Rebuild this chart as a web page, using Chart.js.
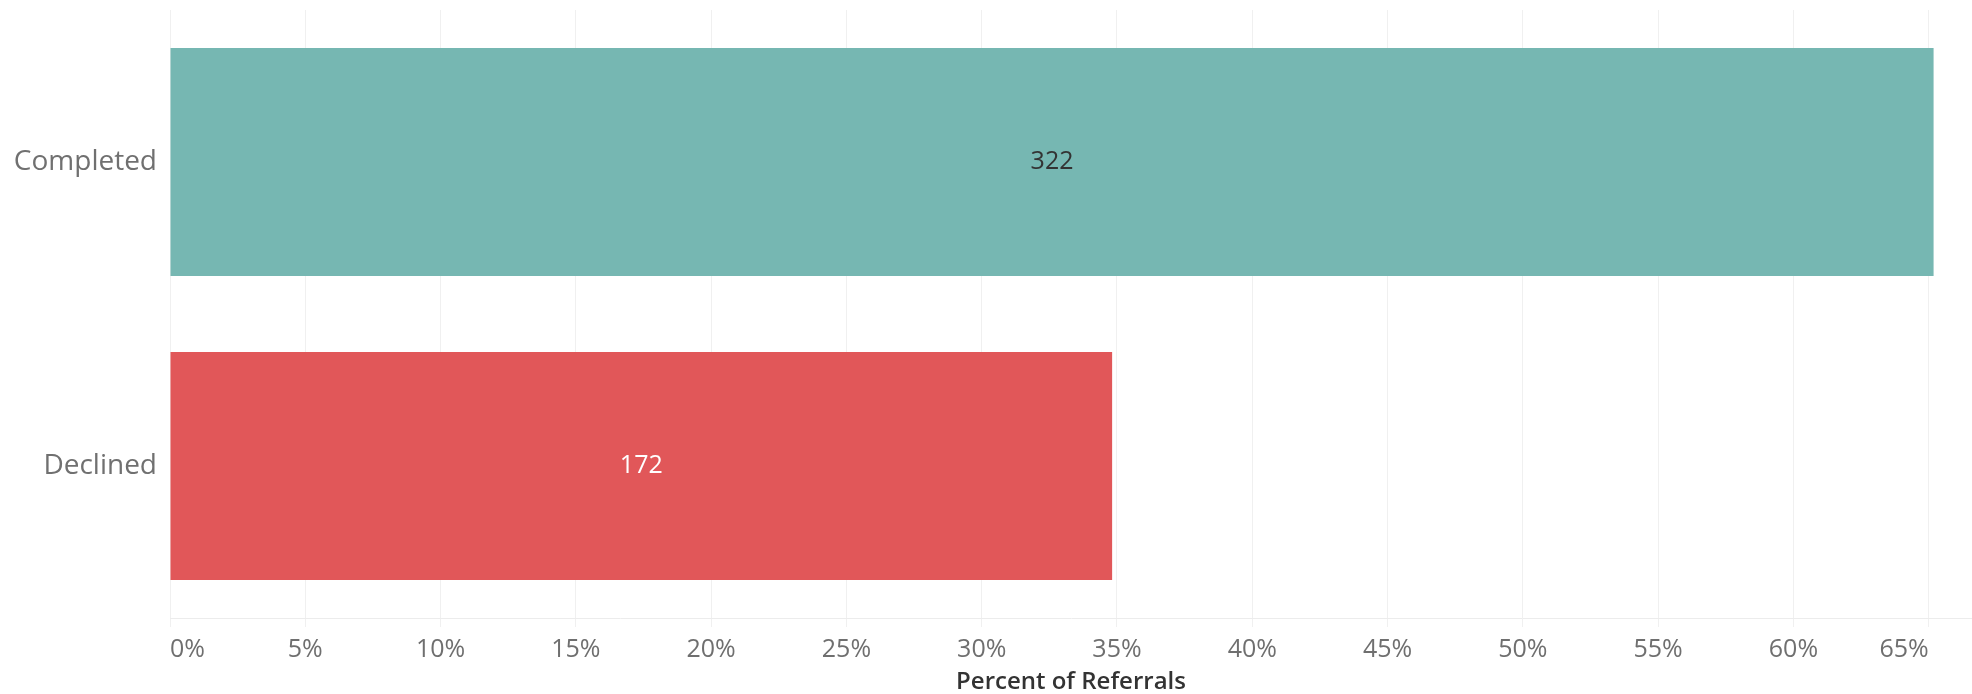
<!DOCTYPE html>
<html>

<head>
    <meta charset="utf-8">
    <title>Referrals</title>
    <script src="https://cdn.jsdelivr.net/npm/chart.js@4.4.0/dist/chart.umd.min.js"></script>
    <style>
        body { margin: 0; background: #fff; }
        canvas { display: block; }
    </style>
</head>

<body>
    <canvas id="chartJSContainer" width="1972" height="694"></canvas>
    <script>
        const statuses = ["Completed", "Declined"]
        const percentOfReferrals = [65.18, 34.82]
        const referralCounts = [322, 172]
        const barColors = ['#76B7B2', '#E15759']
        const countColors = ['#333333', '#ffffff']

        // counts drawn in the middle of each bar
        const countLabels = {
            id: 'countLabels',
            afterDatasetsDraw(chart) {
                const ctx = chart.ctx
                const meta = chart.getDatasetMeta(0)
                ctx.save()
                ctx.font = '25px "Open Sans"'
                ctx.textAlign = 'center'
                ctx.textBaseline = 'middle'
                meta.data.forEach(function (bar, i) {
                    ctx.fillStyle = countColors[i]
                    ctx.fillText(referralCounts[i], (bar.x + bar.base) / 2, bar.y)
                })
                ctx.restore()
            }
        }

        var options = {
            type: 'bar',
            data: {
                labels: statuses,
                datasets: [{
                    label: 'Percent of Referrals',
                    data: percentOfReferrals,
                    backgroundColor: barColors,
                    borderWidth: 0,
                    categoryPercentage: 1,
                    barPercentage: 0.75
                }]
            },
            options: {
                indexAxis: 'y',
                responsive: false,
                animation: false,
                devicePixelRatio: 1,
                layout: {
                    autoPadding: false,
                    padding: { top: 10, right: 0, bottom: 0, left: 0 }
                },
                plugins: {
                    legend: { display: false },
                    tooltip: { enabled: false }
                },
                scales: {
                    x: {
                        min: 0,
                        max: 66.6,
                        grid: { color: '#f0f0f0', lineWidth: 1, tickLength: 9 },
                        border: { color: '#ececec' },
                        ticks: {
                            stepSize: 5,
                            includeBounds: false,
                            align: 'inner',
                            maxRotation: 0,
                            padding: 8,
                            color: '#6f6f6f',
                            font: { family: '"Open Sans"', size: 25, lineHeight: 1.2 },
                            callback: function (v) { return v + '%' }
                        },
                        title: {
                            display: true,
                            text: 'Percent of Referrals',
                            color: '#333333',
                            font: { family: '"Open Sans"', size: 24, weight: 600, lineHeight: 1 },
                            padding: { top: 6, bottom: 0 }
                        },
                        afterFit: function (scale) { scale.height = 76 }
                    },
                    y: {
                        grid: { display: false, drawTicks: false, tickLength: 0 },
                        border: { display: false },
                        ticks: {
                            padding: 13,
                            color: '#707070',
                            font: { family: '"Open Sans"', size: 28, lineHeight: 0.1 }
                        },
                        afterFit: function (scale) {
                            scale.width = 170
                            scale.paddingTop = 0
                            scale.paddingBottom = 0
                        }
                    }
                }
            },
            plugins: [countLabels]
        }

        var context = document.getElementById('chartJSContainer').getContext('2d');
        var barChart = new Chart(context, options);
    </script>
</body>

</html>
